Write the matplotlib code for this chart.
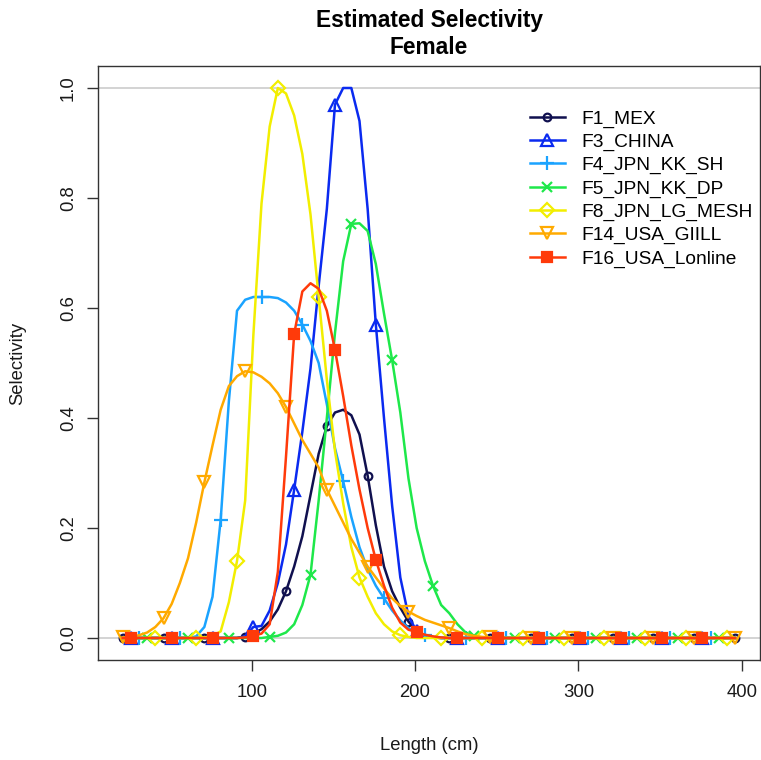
import numpy as np
import matplotlib.pyplot as plt

plt.rcParams['font.family'] = ['Liberation Sans', 'DejaVu Sans']

# length bins (cm), 5 cm wide
lengths = np.arange(21, 397, 5)

fleets = ['F1_MEX', 'F3_CHINA', 'F4_JPN_KK_SH', 'F5_JPN_KK_DP',
          'F8_JPN_LG_MESH', 'F14_USA_GIILL', 'F16_USA_Lonline']

# selectivity at each length bin
sel_f1 = [0, 0, 0, 0, 0, 0, 0, 0, 0, 0,
          0, 0, 0, 0, 0, 0.002, 0.008, 0.016, 0.03, 0.052,
          0.085, 0.13, 0.185, 0.26, 0.335, 0.385, 0.41, 0.415, 0.405, 0.37,
          0.295, 0.205, 0.13, 0.085, 0.055, 0.03, 0.012, 0.004, 0.001, 0,
          0, 0, 0, 0, 0, 0, 0, 0, 0, 0,
          0, 0, 0, 0, 0, 0, 0, 0, 0, 0,
          0, 0, 0, 0, 0, 0, 0, 0, 0, 0,
          0, 0, 0, 0, 0, 0]
sel_f3 = [0, 0, 0, 0, 0, 0, 0, 0, 0, 0,
          0, 0, 0, 0, 0, 0.003, 0.02, 0.022, 0.05, 0.10,
          0.17, 0.27, 0.375, 0.49, 0.64, 0.78, 0.97, 1.0, 1.0, 0.94,
          0.78, 0.57, 0.40, 0.24, 0.11, 0.04, 0.012, 0.003, 0.001, 0,
          0, 0, 0, 0, 0, 0, 0, 0, 0, 0,
          0, 0, 0, 0, 0, 0, 0, 0, 0, 0,
          0, 0, 0, 0, 0, 0, 0, 0, 0, 0,
          0, 0, 0, 0, 0, 0]
sel_f4 = [0, 0, 0, 0, 0, 0, 0, 0, 0, 0.003,
          0.02, 0.075, 0.215, 0.43, 0.595, 0.615, 0.62, 0.62, 0.62, 0.618,
          0.61, 0.595, 0.57, 0.54, 0.50, 0.425, 0.345, 0.285, 0.22, 0.165,
          0.125, 0.095, 0.072, 0.05, 0.032, 0.018, 0.01, 0.005, 0.002, 0,
          0, 0, 0, 0, 0, 0, 0, 0, 0, 0,
          0, 0, 0, 0, 0, 0, 0, 0, 0, 0,
          0, 0, 0, 0, 0, 0, 0, 0, 0, 0,
          0, 0, 0, 0, 0, 0]
sel_f5 = [0, 0, 0, 0, 0, 0, 0, 0, 0, 0,
          0, 0, 0, 0, 0, 0, 0, 0, 0.002, 0.004,
          0.01, 0.025, 0.06, 0.115, 0.25, 0.40, 0.555, 0.685, 0.753, 0.754,
          0.74, 0.68, 0.59, 0.505, 0.41, 0.29, 0.20, 0.14, 0.095, 0.06,
          0.045, 0.025, 0.01, 0.004, 0.001, 0, 0, 0, 0, 0,
          0, 0, 0, 0, 0, 0, 0, 0, 0, 0,
          0, 0, 0, 0, 0, 0, 0, 0, 0, 0,
          0, 0, 0, 0, 0, 0]
sel_f8 = [0, 0, 0, 0, 0, 0, 0, 0, 0, 0,
          0.001, 0.004, 0.012, 0.065, 0.14, 0.25, 0.55, 0.79, 0.93, 1.0,
          0.99, 0.95, 0.88, 0.77, 0.62, 0.47, 0.34, 0.245, 0.165, 0.11,
          0.075, 0.045, 0.025, 0.012, 0.005, 0.002, 0, 0, 0, 0,
          0, 0, 0, 0, 0, 0, 0, 0, 0, 0,
          0, 0, 0, 0, 0, 0, 0, 0, 0, 0,
          0, 0, 0, 0, 0, 0, 0, 0, 0, 0,
          0, 0, 0, 0, 0, 0]
sel_f14 = [0.001, 0.002, 0.005, 0.01, 0.02, 0.036, 0.062, 0.10, 0.145, 0.21,
           0.283, 0.35, 0.415, 0.458, 0.476, 0.485, 0.483, 0.475, 0.463, 0.445,
           0.42, 0.39, 0.36, 0.335, 0.31, 0.27, 0.24, 0.21, 0.18, 0.155,
           0.13, 0.11, 0.09, 0.072, 0.058, 0.048, 0.04, 0.033, 0.028, 0.023,
           0.018, 0.012, 0.007, 0.004, 0.002, 0.001, 0, 0, 0, 0,
           0, 0, 0, 0, 0, 0, 0, 0, 0, 0,
           0, 0, 0, 0, 0, 0, 0, 0, 0, 0,
           0, 0, 0, 0, 0, 0]
sel_f16 = [0, 0, 0, 0, 0, 0, 0, 0, 0, 0,
           0, 0, 0, 0, 0, 0.001, 0.004, 0.008, 0.025, 0.12,
           0.33, 0.553, 0.63, 0.645, 0.635, 0.595, 0.524, 0.44, 0.35, 0.27,
           0.2, 0.142, 0.095, 0.055, 0.028, 0.015, 0.011, 0.006, 0.003, 0.001,
           0, 0, 0, 0, 0, 0, 0, 0, 0, 0,
           0, 0, 0, 0, 0, 0, 0, 0, 0, 0,
           0, 0, 0, 0, 0, 0, 0, 0, 0, 0,
           0, 0, 0, 0, 0, 0]

series = [sel_f1, sel_f3, sel_f4, sel_f5, sel_f8, sel_f14, sel_f16]
colors = ['#10104f', '#0a2af0', '#1aa3ff', '#1ee84a', '#f2ee00', '#ffaa00', '#ff3a0a']
markers = ['o', '^', '+', 'x', 'D', 'v', 's']
msizes = [5.5, 8.5, 10, 7.5, 7, 8.5, 7]
filled = [False, False, True, True, False, False, True]

W, H = 761, 760
fig = plt.figure(figsize=(W / 100, H / 100), dpi=100)
ax = fig.add_axes([98.2 / W, 100 / H, 661.4 / W, 594 / H])

ax.axhline(0, color='#cccccc', lw=1.2, zorder=0.5)
ax.axhline(1, color='#cccccc', lw=1.2, zorder=0.5)

for i, (name, sel) in enumerate(zip(fleets, series)):
    c = colors[i]
    ax.plot(lengths, sel, color=c, lw=1.8, marker=markers[i],
            markevery=(i % 5, 5), ms=msizes[i], mew=1.6,
            mfc=c if filled[i] else 'none', mec=c, label=name)

rng = lengths.max() - lengths.min()
ax.set_xlim(lengths.min() - 0.04 * rng, lengths.max() + 0.04 * rng)
ax.set_ylim(-0.04, 1.04)

ax.set_xticks([100, 200, 300, 400])
ax.set_yticks([0, 0.2, 0.4, 0.6, 0.8, 1.0])
ax.set_yticklabels(['0.0', '0.2', '0.4', '0.6', '0.8', '1.0'])
for lbl in ax.get_yticklabels():
    lbl.set_rotation(90)
    lbl.set_va('center')

ax.tick_params(axis='both', direction='out', length=7.9, width=1.0,
               color='#333333', labelsize=13.3, labelcolor='#1a1a1a')
ax.tick_params(axis='x', pad=9.3)
ax.tick_params(axis='y', pad=7.5)
for sp in ax.spines.values():
    sp.set_color('#333333')
    sp.set_linewidth(1.0)

fig.text(429 / W, 1 - 27.3 / H, 'Estimated Selectivity', ha='center', va='baseline',
         fontsize=16.4, fontweight='bold')
fig.text(429 / W, 1 - 54 / H, 'Female', ha='center', va='baseline',
         fontsize=16.4, fontweight='bold')
fig.text(429 / W, 1 - 750 / H, 'Length (cm)', ha='center', va='baseline',
         fontsize=13.3, color='#1a1a1a')
fig.text(18 / W, 1 - 363 / H, 'Selectivity', ha='center', va='center',
         rotation=90, fontsize=13.3, color='#1a1a1a')

ax.legend(loc='upper left', bbox_to_anchor=(530 / W, 1 - 110 / H),
          bbox_transform=fig.transFigure, frameon=False, fontsize=13.8,
          handlelength=1.82, handletextpad=0.87, labelspacing=0.3,
          borderpad=0, borderaxespad=0)

fig.savefig('out.png', dpi=100)
